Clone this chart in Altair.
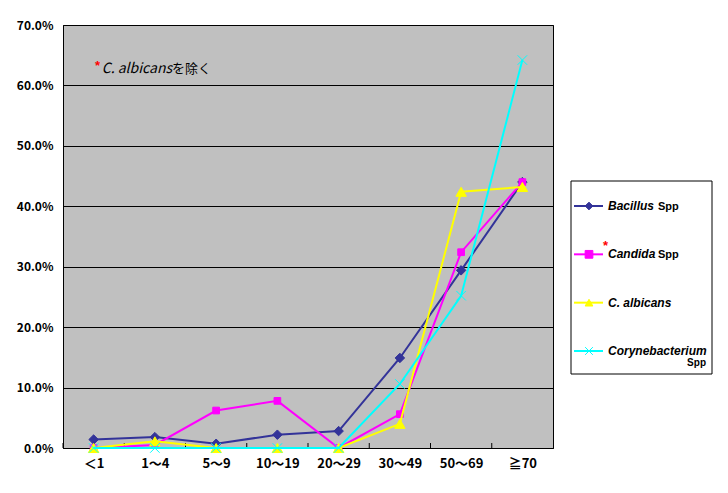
import altair as alt
import pandas as pd

# ---- data ----
categories = ["＜1", "1～4", "5～9", "10～19", "20～29", "30～49", "50～69", "≧70"]
series_names = ["Bacillus", "Candida", "C. albicans", "Corynebacterium"]
bacillus = [1.4, 1.8, 0.7, 2.2, 2.8, 14.9, 29.4, 44.0]
candida = [0.0, 0.5, 6.2, 7.8, 0.0, 5.6, 32.4, 44.0]
albicans = [0.0, 1.1, 0.0, 0.0, 0.0, 4.0, 42.4, 43.2]
coryne = [0.0, 0.0, 0.0, 0.0, 0.0, 10.6, 25.2, 64.2]
colors = ["#333399", "#FF00FF", "#FFFF00", "#00FFFF"]
legend_suffix = ["Spp", "Spp", "", "Spp"]
note_star = "*"
note_italic = "C. albicans"
note_rest = "を除く"

rows = []
for s, vals in zip(series_names, [bacillus, candida, albicans, coryne]):
    for c, v in zip(categories, vals):
        rows.append({"series": s, "age": c, "value": v})
df = pd.DataFrame(rows)
leg = pd.DataFrame({"series": series_names, "color": colors, "suffix": legend_suffix})
cat_df = pd.DataFrame({"age": categories})

W, H = 490, 423
CJK = "Noto Sans CJK JP"
LAT = "Liberation Sans"
STEP = W / len(categories)

pscale = alt.Scale(type="point", domain=categories, padding=0.5)

x_enc = alt.X(
    "age:N",
    sort=categories,
    scale=pscale,
    axis=alt.Axis(
        title=None, ticks=False, labelAngle=0, labelPadding=9, labelFont=CJK,
        labelFontSize=13, labelFontWeight="bold", labelColor="black",
        domainColor="black", grid=False,
    ),
)

def y_enc(show_axis=False):
    ax = None
    if show_axis:
        ax = alt.Axis(
            title=None, values=[0, 10, 20, 30, 40, 50, 60, 70], ticks=False,
            labelExpr="format(datum.value, '.1f') + '%'", labelFont=CJK,
            labelFontSize=12, labelFontWeight="bold", labelColor="black",
            labelPadding=10, grid=True, gridColor="black", gridOpacity=1,
            gridWidth=1, domainColor="black", minExtent=50, maxExtent=50,
        )
    return alt.Y("value:Q", scale=alt.Scale(domain=[0, 70], nice=False), axis=ax)

layers = []

# inward tick marks at category boundaries
layers.append(
    alt.Chart(cat_df).mark_rule(color="black", strokeWidth=1, xOffset=-STEP / 2).encode(
        x=x_enc,
        y=alt.value(H - 5), y2=alt.value(H),
    )
)

shapes = ["diamond", "square", "triangle-up", "M-1,-1L1,1M-1,1L1,-1"]
sizes = [90, 45, 110, 90]
for i, (s, col) in enumerate(zip(series_names, colors)):
    sub = df[df["series"] == s]
    layers.append(
        alt.Chart(sub).mark_line(color=col, strokeWidth=2).encode(
            x=x_enc, y=y_enc(i == 0)
        )
    )
    if i == 3:
        pt = alt.Chart(sub).mark_point(shape=shapes[i], filled=False, stroke=col,
                                       strokeWidth=1, size=sizes[i], opacity=1)
    else:
        pt = alt.Chart(sub).mark_point(shape=shapes[i], filled=True, fill=col,
                                       stroke=col, strokeWidth=1, size=sizes[i], opacity=1)
    layers.append(pt.encode(x=x_enc, y=y_enc(False)))

# ---- annotation ----
one = alt.Data(values=[{}])
layers.append(alt.Chart(one).mark_text(align="left", baseline="middle", color="red",
                                       font=LAT, fontSize=13, fontWeight="bold").encode(
    x=alt.value(32), y=alt.value(41), text=alt.value(note_star)))
layers.append(alt.Chart(one).mark_text(align="right", baseline="middle", color="black",
                                       font=CJK, fontSize=14, fontStyle="italic").encode(
    x=alt.value(109), y=alt.value(44), text=alt.value(note_italic)))
layers.append(alt.Chart(one).mark_text(align="left", baseline="middle", color="black",
                                       font=CJK, fontSize=13).encode(
    x=alt.value(109), y=alt.value(44), text=alt.value(note_rest)))

# ---- custom legend ----
leg_y = alt.Y("series:N", scale=alt.Scale(type="point", domain=series_names,
                                           range=[181, 326], padding=0), axis=None)
col_scale = alt.Scale(domain=series_names, range=colors)

layers.append(alt.Chart(one).mark_rect(fill="white", stroke="black", strokeWidth=1).encode(
    x=alt.value(508), x2=alt.value(649), y=alt.value(156), y2=alt.value(349)))
layers.append(alt.Chart(leg).mark_rule(strokeWidth=2).encode(
    x=alt.value(511), x2=alt.value(540), y=leg_y,
    color=alt.Color("series:N", scale=col_scale, legend=None)))
layers.append(alt.Chart(leg).mark_point(filled=True, strokeWidth=1, size=60, opacity=1).encode(
    x=alt.value(526), y=leg_y,
    shape=alt.Shape("series:N", scale=alt.Scale(domain=series_names, range=shapes), legend=None),
    fill=alt.Fill("series:N", scale=col_scale, legend=None),
    stroke=alt.Stroke("series:N", scale=col_scale, legend=None)))
layers.append(alt.Chart(leg).mark_text(align="left", baseline="middle", font=LAT,
                                       fontSize=12, fontStyle="italic", fontWeight="bold",
                                       color="black").encode(
    x=alt.value(545), y=leg_y, text="series:N"))
layers.append(alt.Chart(leg).transform_filter(
    alt.FieldOneOfPredicate(field="series", oneOf=series_names[:2])
).mark_text(align="left", baseline="middle", font=LAT, fontSize=11,
            fontWeight="bold", color="black", dy=1).encode(
    x=alt.value(595), y=leg_y, text="suffix:N"))
layers.append(alt.Chart(leg).transform_filter(
    alt.FieldEqualPredicate(field="series", equal=series_names[3])
).mark_text(align="right", baseline="top", font=LAT, fontSize=10,
            fontWeight="bold", color="black", dy=7).encode(
    x=alt.value(643), y=leg_y, text="suffix:N"))
layers.append(alt.Chart(leg).transform_filter(
    alt.FieldEqualPredicate(field="series", equal=series_names[1])
).mark_text(align="left", baseline="middle", font=LAT, fontSize=13, fontWeight="bold",
            color="red", dy=-8).encode(
    x=alt.value(540), y=leg_y, text=alt.value(note_star)))

chart = alt.layer(*layers).resolve_scale(y="independent").properties(
    width=W, height=H,
    view=alt.ViewBackground(fill="#C0C0C0", stroke="black", strokeWidth=1),
    padding={"left": 5, "top": 11, "right": 5, "bottom": 5},
    background="white",
)

chart.save("out.html", embed_options={"renderer": "svg", "actions": False})
